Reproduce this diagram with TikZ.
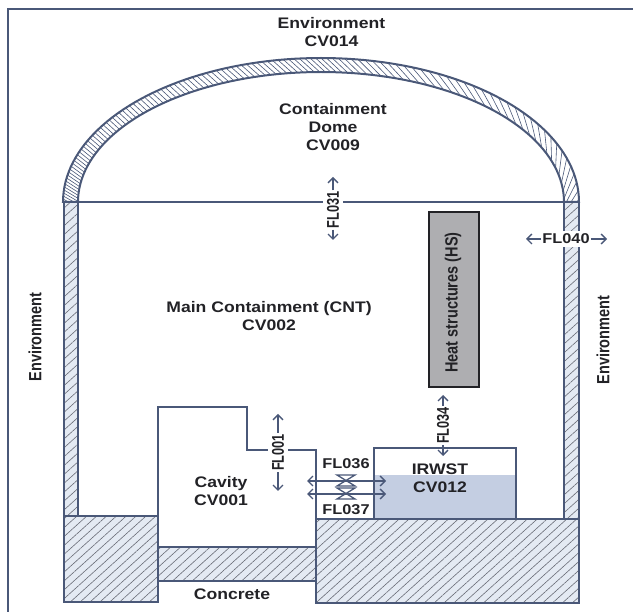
\documentclass[tikz,border=0pt]{standalone}
\usepackage{fontspec}
\setmainfont{Liberation Sans}
\newfontfamily\widefont[FakeStretch=1.15]{Liberation Sans}
\newfontfamily\tallfont[FakeStretch=0.82]{Liberation Sans}
\newfontfamily\tallflfont[FakeStretch=0.75]{Liberation Sans}
\usetikzlibrary{arrows.meta,patterns.meta}
\definecolor{wallblue}{RGB}{74,88,120}
\definecolor{palewall}{RGB}{228,234,243}
\definecolor{hatchgrey}{RGB}{105,108,118}
\definecolor{waterblue}{RGB}{196,206,226}
\definecolor{hsgrey}{RGB}{174,174,177}
\definecolor{inkblack}{RGB}{34,34,38}
\newcommand{\domepath}{plot[domain=180:0,samples=91] ({321+258*cos(\x)},{202-144*sin(\x)})
  -- plot[domain=0:180,samples=91] ({321+243*cos(\x)},{202-130*sin(\x)}) -- cycle}

\begin{document}
\begin{tikzpicture}[x=1pt,y=-1pt,
      wall/.style={draw=wallblue, line width=2pt},
      concrete/.style={wall, preaction={fill=palewall},
                       pattern={Lines[angle=42,distance=6.6pt,line width=0.6pt]},
                       pattern color=hatchgrey},
      arr/.style={{Straight Barb[length=5pt,width=10pt]}-{Straight Barb[length=5pt,width=10pt]}, line width=1.3pt, wallblue},
      arrend/.style={-{Straight Barb[length=5pt,width=10pt]}, line width=1.3pt, wallblue},
      lbl/.style={align=center, inner sep=0pt, text=inkblack,
                  font=\widefont\fontsize{15.3}{18}\selectfont\bfseries},
      fl/.style={inner xsep=1pt, inner ysep=0pt, text=inkblack,
                  font=\widefont\fontsize{14.2}{16}\selectfont\bfseries},
      flup/.style={rotate=90, inner xsep=1pt, inner ysep=0pt, text=inkblack,
                  font=\tallflfont\fontsize{17}{18}\selectfont\bfseries},
      lblup/.style={rotate=90, inner sep=0pt, text=inkblack,
                  font=\tallfont\fontsize{17.7}{18}\selectfont\bfseries},
      valve/.pic={\draw[wallblue, line width=1.3pt] (-9,-5.5)--(9,-5.5)--(-9,5.5)--(9,5.5)--cycle;}
    ]
    \useasboundingbox (0,0) rectangle (633,612);

    % outer frame
    \draw[wall] (7.5,612)--(7.5,9.5)--(633,9.5);

    % dome
    \begin{scope}
      \clip \domepath;
      \foreach \i [evaluate=\i as \a using {180-1.2*\i-0.03*(max(\i-75,0))^2},
                   evaluate=\i as \b using {\a-0.08*(135-\a)}] in {0,...,114}
        \draw[wallblue, line width=0.6pt]
          ({321+258*cos(\a)},{202-144*sin(\a)})--({321+243*cos(\b)},{202-130*sin(\b)});
    \end{scope}
    \draw[wall] \domepath;

    % walls and base
    \path[concrete] (63.5,202) rectangle (78,516);
    \path[concrete] (564,202) rectangle (579,519);
    \path[concrete] (63.5,516) rectangle (158,602);
    \path[concrete] (158,547) rectangle (316,581.5);
    \path[concrete] (316,519) rectangle (579,603);

    % water pool
    \fill[waterblue] (375,475) rectangle (515,518);
    \draw[wall] (374,519)--(374,448)--(515.5,448)--(515.5,519);

    % cavity and floor line
    \draw[wall] (158,516)--(158,407)--(247,407)--(247,450)--(316,450)--(316,603);
    \draw[wall] (63.5,202)--(579,202);

    % heat structures
    \node[draw=inkblack, line width=2pt, fill=hsgrey, minimum width=50pt, minimum height=175pt,
          inner sep=0pt] (hs) at (453.5,299.5) {};
    \node[lblup] (hslabel) at (453,302.5) {Heat structures (HS)};

    \node[lbl] (env14) at (331.5,32) {Environment\\CV014};
    \node[lbl] (dome) at (333,127) {Containment\\Dome\\CV009};
    \node[lbl] (cnt) at (269,316) {Main Containment (CNT)\\CV002};
    \node[lbl] (cavity) at (221,491) {Cavity\\CV001};
    \node[lbl] (irwst) at (440,478) {IRWST\\CV012};
    \node[lbl] (concretelabel) at (232,594) {Concrete};
    \node[lblup] (envleft) at (35,337) {Environment};
    \node[lblup] (envright) at (603,340) {Environment};

    % flow paths
    \node[flup, fill=white, inner ysep=4pt] (fl031) at (333,210) {FL031};
    \coordinate (fl031a) at (333,177);
    \coordinate (fl031b) at (333,240);
    \draw[arrend] (fl031)--(fl031a);
    \draw[arrend] (fl031)--(fl031b);

    \node[fl, fill=white, inner ysep=2.5pt] (fl040) at (566,239) {FL040};
    \coordinate (fl040a) at (526,239);
    \coordinate (fl040b) at (607,239);
    \draw[arrend] (fl040)--(fl040a);
    \draw[arrend] (fl040)--(fl040b);

    \node[flup, fill=white, inner ysep=4pt] (fl001) at (278,452.5) {FL001};
    \coordinate (fl001a) at (278,414);
    \coordinate (fl001b) at (278,491);
    \draw[arrend] (fl001)--(fl001a);
    \draw[arrend] (fl001)--(fl001b);

    \node[flup] (fl034) at (443,425.5) {FL034};
    \coordinate (fl034a) at (443,395);
    \coordinate (fl034b) at (443,456);
    \draw[arrend] (fl034)--(fl034a);
    \draw[arrend] (fl034)--(fl034b);

    \node[fl] (fl036) at (346,464) {FL036};
    \node[fl] (fl037) at (346,510) {FL037};
    \coordinate (fl036a) at (307,481);
    \coordinate (fl036b) at (386,481);
    \coordinate (fl037a) at (307,494);
    \coordinate (fl037b) at (386,494);
    \draw[arr] (fl036a)--(fl036b);
    \draw[arr] (fl037a)--(fl037b);
    \pic at (346,480.5) {valve};
    \pic at (346,493.5) {valve};
  \end{tikzpicture}
\end{document}
